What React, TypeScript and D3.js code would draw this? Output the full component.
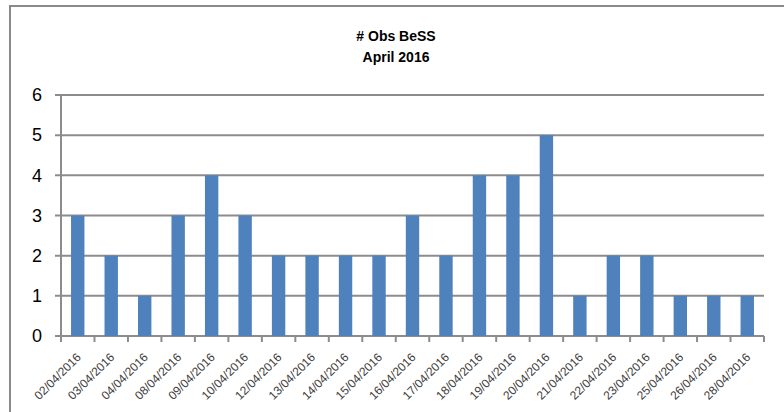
import React, { useEffect, useRef } from "react";
import * as d3 from "d3";

const dates = [
  "02/04/2016", "03/04/2016", "04/04/2016", "08/04/2016", "09/04/2016",
  "10/04/2016", "12/04/2016", "13/04/2016", "14/04/2016", "15/04/2016",
  "16/04/2016", "17/04/2016", "18/04/2016", "19/04/2016", "20/04/2016",
  "21/04/2016", "22/04/2016", "23/04/2016", "25/04/2016", "26/04/2016",
  "28/04/2016",
];
const counts = [3, 2, 1, 3, 4, 3, 2, 2, 2, 2, 3, 2, 4, 4, 5, 1, 2, 2, 1, 1, 1];
const yTicks = [0, 1, 2, 3, 4, 5, 6];
const titleLines = ["# Obs BeSS", "April 2016"];

const width = 784;
const height = 412;
const margin = { top: 95, right: 20, bottom: 76, left: 61 };
const plotRight = 764;

export default function App() {
  const ref = useRef<SVGSVGElement>(null);

  useEffect(() => {
    const svg = d3.select(ref.current);
    svg.selectAll("*").remove();

    const x = d3
      .scaleBand()
      .domain(dates)
      .range([margin.left, plotRight])
      .paddingInner(0.6)
      .paddingOuter(0.3);
    const y = d3.scaleLinear().domain([0, 6]).range([336, margin.top]);

    // outer frame (only top and left visible)
    svg
      .append("path")
      .attr("d", `M10,${height} L10,6 L${width},6`)
      .attr("fill", "none")
      .attr("stroke", "#8a8a8a")
      .attr("stroke-width", 2);

    // title
    svg
      .append("g")
      .selectAll("text")
      .data(titleLines)
      .enter()
      .append("text")
      .attr("x", 396)
      .attr("y", (d, i) => 41 + i * 21)
      .attr("text-anchor", "middle")
      .style("font", "bold 14px 'Liberation Sans', Arial, sans-serif")
      .style("fill", "#000")
      .text(d => d);

    // gridlines
    svg
      .append("g")
      .selectAll("line")
      .data(yTicks)
      .enter()
      .append("line")
      .attr("x1", 55)
      .attr("x2", plotRight)
      .attr("y1", d => y(d))
      .attr("y2", d => y(d))
      .attr("stroke", "#8c8c8c")
      .attr("stroke-width", 2);

    // y tick labels
    svg
      .append("g")
      .selectAll("text")
      .data(yTicks)
      .enter()
      .append("text")
      .attr("x", 42)
      .attr("y", d => y(d))
      .attr("dy", "0.35em")
      .attr("text-anchor", "end")
      .style("font", "18px 'Liberation Sans', Arial, sans-serif")
      .style("fill", "#000")
      .text(d => d);

    // y axis line
    svg
      .append("line")
      .attr("x1", margin.left)
      .attr("x2", margin.left)
      .attr("y1", y(6))
      .attr("y2", y(0))
      .attr("stroke", "#8c8c8c")
      .attr("stroke-width", 2);

    // bars
    svg
      .append("g")
      .selectAll("rect")
      .data(counts)
      .enter()
      .append("rect")
      .attr("x", (d, i) => x(dates[i]) as number)
      .attr("y", d => y(d))
      .attr("width", x.bandwidth())
      .attr("height", d => y(0) - y(d))
      .attr("fill", "#4f81bd");

    // x axis ticks at category boundaries
    const bounds = d3
      .range(dates.length + 1)
      .map(i => margin.left + (i * (plotRight - margin.left)) / dates.length);
    svg
      .append("g")
      .selectAll("line")
      .data(bounds)
      .enter()
      .append("line")
      .attr("x1", d => d)
      .attr("x2", d => d)
      .attr("y1", y(0))
      .attr("y2", y(0) + 6)
      .attr("stroke", "#8c8c8c")
      .attr("stroke-width", 2);

    // x labels
    svg
      .append("g")
      .selectAll("text")
      .data(dates)
      .enter()
      .append("text")
      .attr(
        "transform",
        d => `translate(${(x(d) as number) + x.bandwidth() / 2 + 1},${y(0) + 19}) rotate(-45)`
      )
      .attr("text-anchor", "end")
      .attr("dy", "0.35em")
      .style("font", "12px 'Liberation Sans', Arial, sans-serif")
      .style("fill", "#404040")
      .text(d => d);
  }, []);

  return (
    <svg
      ref={ref}
      width={width}
      height={height}
      style={{ position: "absolute", left: 0, top: 0, background: "#fff" }}
    />
  );
}
